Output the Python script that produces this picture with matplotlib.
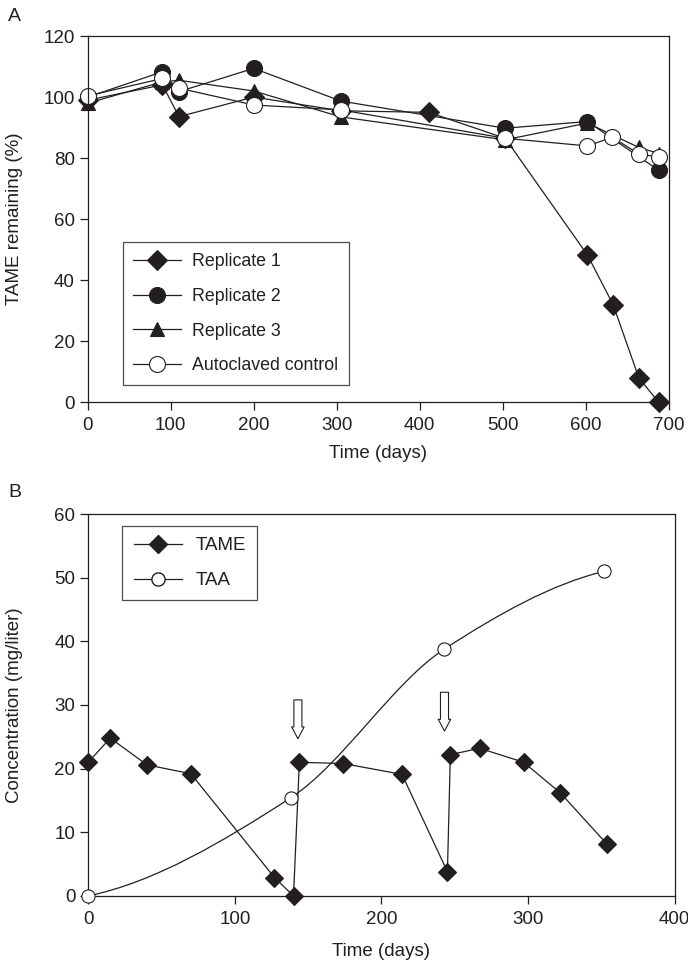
import numpy as np
import matplotlib
matplotlib.use("Agg")
import matplotlib.pyplot as plt
from matplotlib.path import Path
from matplotlib.patches import PathPatch
from matplotlib.lines import Line2D

plt.rcParams['font.family'] = ['Liberation Sans', 'DejaVu Sans']
INK = '#231f20'

# --- panel A: TAME remaining (%) ---
rep1_days = [0, 90, 110, 200, 305, 411, 503, 602, 633, 664, 688]
rep1_pct = [99, 104, 93.6, 100, 95.5, 95, 86.5, 48.3, 32, 8, 0]
rep2_days = [0, 90, 110, 200, 305, 503, 602, 688]
rep2_pct = [100, 108.3, 101.8, 109.4, 98.7, 89.8, 92, 76]
rep3_days = [0, 90, 110, 200, 305, 503, 602, 664, 688]
rep3_pct = [98, 105, 105.5, 102, 93.5, 86, 91.5, 83.5, 81.5]
ctrl_days = [0, 90, 110, 200, 305, 503, 602, 632, 664, 688]
ctrl_pct = [100.4, 106.1, 102.9, 97.4, 95.8, 86.5, 84, 86.8, 81.4, 80.3]

# --- panel B: concentrations (mg/liter) ---
tame_days = [0, 15, 40, 70, 127, 140, 144, 174, 214, 245, 247, 267, 297, 322, 354]
tame_conc = [21, 24.8, 20.6, 19.2, 2.9, 0, 21, 20.8, 19.1, 3.8, 22.2, 23.2, 21.0, 16.2, 8.1]
taa_days = [0, 138, 243, 352]
taa_conc = [0, 15.4, 38.8, 51.0]
spike_days = [143, 243]  # TAME re-additions (arrows)


def smooth_path(xs, ys):
    # cubic hermite (pchip-like slopes) drawn as bezier segments
    xs = np.asarray(xs, float)
    ys = np.asarray(ys, float)
    h = np.diff(xs)
    d = np.diff(ys) / h
    m = np.zeros_like(xs)
    for i in range(1, len(xs) - 1):
        if d[i - 1] * d[i] > 0:
            m[i] = 2 / (1 / d[i - 1] + 1 / d[i])
    m[0] = ((2 * h[0] + h[1]) * d[0] - h[0] * d[1]) / (h[0] + h[1])
    m[-1] = ((2 * h[-1] + h[-2]) * d[-1] - h[-1] * d[-2]) / (h[-1] + h[-2])
    verts = [(xs[0], ys[0])]
    codes = [Path.MOVETO]
    for i in range(len(h)):
        k = h[i] / 3
        verts += [(xs[i] + k, ys[i] + m[i] * k),
                  (xs[i + 1] - k, ys[i + 1] - m[i + 1] * k),
                  (xs[i + 1], ys[i + 1])]
        codes += [Path.CURVE4] * 3
    return Path(verts, codes)


def style_axes(ax):
    for s in ax.spines.values():
        s.set_linewidth(0.9)
        s.set_color(INK)
    ax.tick_params(direction='out', length=5.8, width=0.9, color=INK,
                   labelsize=13.5, labelcolor=INK, top=False, right=False)
    ax.tick_params(axis='x', pad=5)
    ax.yaxis.set_label_coords(-0.111, 0.5)


def style_legend(leg):
    leg.get_frame().set_edgecolor(INK)
    leg.get_frame().set_linewidth(0.9)
    for t in leg.get_texts():
        t.set_color(INK)


fig = plt.figure(figsize=(6.88, 9.66), dpi=100)
axA = fig.add_axes([0.1275, 0.5835, 0.8445, 0.3792])
axB = fig.add_axes([0.1283, 0.0725, 0.8523, 0.3954])

kw = dict(color=INK, lw=0.9, mec=INK, mew=0.8, clip_on=False)
axA.plot(rep1_days, rep1_pct, marker='D', ms=10.3, mfc=INK, label='Replicate 1', **kw)
axA.plot(rep2_days, rep2_pct, marker='o', ms=11.5, mfc=INK, label='Replicate 2', **kw)
axA.plot(rep3_days, rep3_pct, marker='^', ms=10.5, mfc=INK, label='Replicate 3', **kw)
axA.plot(ctrl_days, ctrl_pct, marker='o', ms=11.5, mfc='white', label='Autoclaved control', **kw)

axA.set_xlim(0, 700)
axA.set_ylim(0, 120)
axA.set_xticks(range(0, 701, 100))
axA.set_yticks(range(0, 121, 20))
axA.set_xlabel('Time (days)', fontsize=13.5, color=INK, labelpad=8)
axA.set_ylabel('TAME remaining (%)', fontsize=13.5, color=INK)
style_axes(axA)
legA = axA.legend(loc='lower left', bbox_to_anchor=(0.06, 0.047), borderaxespad=0,
                  fontsize=12.8, frameon=True, fancybox=False, handlelength=2.7,
                  handletextpad=0.6, labelspacing=1.0, borderpad=0.6)
style_legend(legA)

# panel B
axB.plot(tame_days, tame_conc, marker='D', ms=9.3, mfc=INK, **kw)
axB.add_patch(PathPatch(smooth_path(taa_days, taa_conc), fill=False, ec=INK, lw=0.9))
axB.plot(taa_days, taa_conc, ls='none', marker='o', ms=9.5, mfc='white', mec=INK,
         mew=0.8, clip_on=False, zorder=3)

for d in spike_days:
    v = max(c for x, c in zip(tame_days, tame_conc) if abs(x - d) < 6)
    axB.annotate('', xy=(d, v + 3.7), xytext=(d, v + 9.8),
                 arrowprops=dict(arrowstyle='simple,head_length=0.85,head_width=0.9,tail_width=0.58',
                                 mutation_scale=10, fc='white', ec=INK, lw=0.8,
                                 shrinkA=0, shrinkB=0))

axB.set_xlim(0, 400)
axB.set_ylim(0, 60)
axB.set_xticks(range(0, 401, 100))
axB.set_yticks(range(0, 61, 10))
axB.set_xlabel('Time (days)', fontsize=13.5, color=INK, labelpad=11)
axB.set_ylabel('Concentration (mg/liter)', fontsize=13.5, color=INK)
style_axes(axB)
handles = [Line2D([], [], color=INK, lw=0.9, marker='D', ms=9.3, mfc=INK, mec=INK),
           Line2D([], [], color=INK, lw=0.9, marker='o', ms=9.5, mfc='white', mec=INK)]
legB = axB.legend(handles, ['TAME', 'TAA'], loc='upper left', bbox_to_anchor=(0.058, 0.969),
                  borderaxespad=0, fontsize=13.5, frameon=True, fancybox=False,
                  handlelength=2.6, handletextpad=0.7, labelspacing=0.95, borderpad=0.6)
style_legend(legB)

fig.text(8 / 688, 1 - 8 / 966, 'A', fontsize=14, color=INK, va='top', ha='left')
fig.text(8 / 688, 1 - 484 / 966, 'B', fontsize=14, color=INK, va='top', ha='left')

fig.savefig('out.png', dpi=100)
